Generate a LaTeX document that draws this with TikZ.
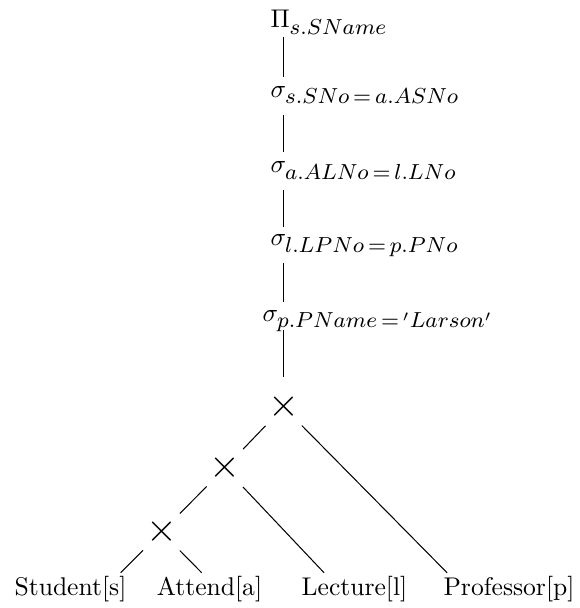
\RequirePackage{fix-cm}
\documentclass[tikz,border=0pt]{standalone}
\usetikzlibrary{calc}
\DeclareMathSizes{10}{10}{8.5}{6}
\begin{document}
\begin{tikzpicture}[x=0.390625pt,y=-0.390625pt,
  op/.style={anchor=base west,inner sep=0pt},
  leaf/.style={anchor=base,inner sep=1pt},
  prod/.style={inner sep=0pt,font=\fontsize{15.5}{15.5}\selectfont},
  branch/.style={shorten <=10.2pt}]
\useasboundingbox (0,0) rectangle (579,608);

% operator chain
\node[op] (proj) at (270,28)    {$\Pi_{s.SName}$};
\node[op] (sel1) at (270,97.5)  {$\sigma_{s.SNo\,=\,a.ASNo}$};
\node[op] (sel2) at (270,173)   {$\sigma_{a.ALNo\,=\,l.LNo}$};
\node[op] (sel3) at (270,246)   {$\sigma_{l.LPNo\,=\,p.PNo}$};
\node[op] (sel4) at (262,321.5) {$\sigma_{p.PName\,=\,'Larson'}$};

% cartesian products
\node[prod] (x1) at (283.5,407) {$\times$};
\node[prod] (x2) at (225,468)   {$\times$};
\node[prod] (x3) at (161.5,532) {$\times$};

% relations
\node[leaf] (stud) at (70.5,595)  {Student[s]};
\node[leaf] (att)  at (209.5,595) {Attend[a]};
\node[leaf] (lect) at (354.5,595) {Lecture[l]};
\node[leaf] (prof) at (509,595)   {Professor[p]};

% vertical links
\draw[shorten <=3.5pt, shorten >=8pt]   (proj.base -| x1.center) -- (sel1.base -| x1.center);
\draw[shorten <=6.8pt, shorten >=8.2pt] (sel1.base -| x1.center) -- (sel2.base -| x1.center);
\draw[shorten <=6.6pt, shorten >=7.4pt] (sel2.base -| x1.center) -- (sel3.base -| x1.center);
\draw[shorten <=6.6pt, shorten >=7.6pt] (sel3.base -| x1.center) -- (sel4.base -| x1.center);
\draw[shorten <=3.3pt, shorten >=11.7pt] (sel4.base -| x1.center) -- (x1.center);

% product tree
\draw[branch, shorten >=10.2pt] (x1.center) -- (x2.center);
\draw[branch, shorten >=10.2pt] (x2.center) -- (x3.center);
\draw[branch] (x1.center) -- ([xshift=-24.2pt]prof.north);
\draw[branch] (x2.center) -- ([xshift=-11.9pt]lect.north);
\draw[branch] (x3.center) -- ([xshift=19.6pt]stud.north);
\draw[branch] (x3.center) -- ([xshift=-3.05pt]att.north);
\end{tikzpicture}
\end{document}
